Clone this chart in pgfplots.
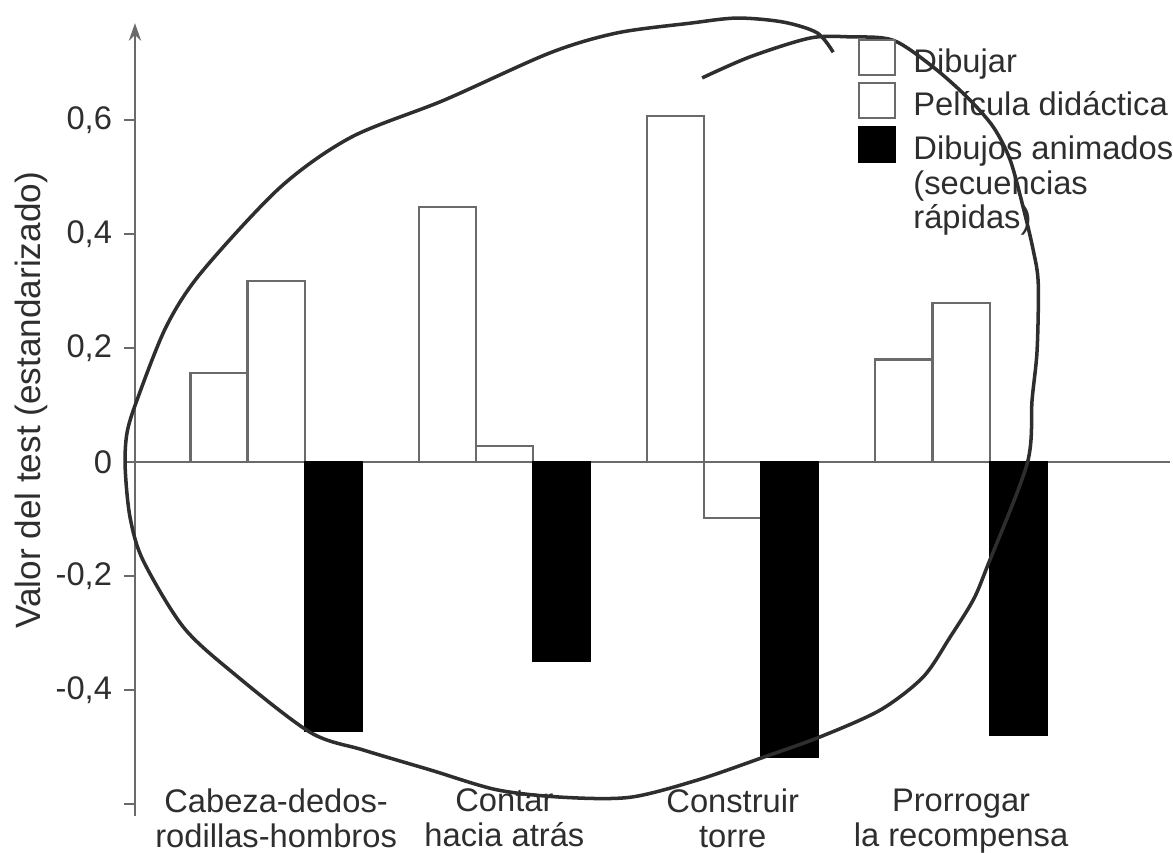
\documentclass[border=0pt]{standalone}
\usepackage{pgfplots}
\pgfplotsset{compat=1.18}
\usepackage{fontspec}
\setmainfont{Liberation Sans}
\usetikzlibrary{arrows.meta}

\definecolor{ink}{HTML}{2E2E2E}
\definecolor{edge}{HTML}{6A6A6A}

\pgfplotsset{
  legbox/.style={legend image code/.code={\draw[##1] (0pt,-2.8pt) rectangle (10.2pt,7.1pt);}},
}

\begin{document}
\begin{tikzpicture}
\useasboundingbox (-38.4pt,-10.4pt) rectangle (295.3pt,232.0pt);
\begin{axis}[
    at={(0,0)}, anchor=south west,
    scale only axis, width=294.5pt, height=225.4pt,
    xmin=-0.618, xmax=3.916, ymin=-0.62, ymax=0.77,
    clip=false,
    axis y line=left, axis x line*=bottom,
    x axis line style={draw=none},
    y axis line style={draw=edge, line width=0.6pt, -{Stealth[length=5pt,width=3.5pt]}},
    xtick={0,1,2,3},
    xticklabels={{Cabeza-dedos-\\rodillas-hombros},{Contar\\hacia atrás},{Construir\\torre},{Prorrogar\\la recompensa}},
    xtick style={draw=none},
    xticklabel style={align=center, anchor=north, inner sep=0pt, yshift=10.8pt,
        font=\fontsize{9.3}{9.9}\selectfont, text=ink},
    ytick={-0.6,-0.4,-0.2,0,0.2,0.4,0.6},
    yticklabels={{},{-0,4},{-0,2},0,{0,2},{0,4},{0,6}},
    yticklabel style={font=\fontsize{9.3}{10}\selectfont, text=ink},
    tick align=outside, major tick length=3pt,
    ytick style={draw=edge, line width=0.6pt},
    extra y ticks={0}, extra y tick labels={},
    extra y tick style={grid=major, major grid style={draw=edge, line width=0.5pt}, tick style={draw=none}},
    ylabel={Valor del test (estandarizado)},
    ylabel style={at={(axis description cs:-0.1005,0.524)}, anchor=center,
        font=\fontsize{10}{11}\selectfont, text=ink},
    legend cell align=left,
    legend style={at={(0.6976,0.981)}, anchor=north west, draw=none, fill=none,
        inner sep=0pt, row sep=0pt, column sep=5pt,
        nodes={inner sep=0pt, text height=7.1pt, text depth=2.8pt,
            font=\fontsize{9.3}{10}\selectfont, text=ink}},
]

\addplot[ybar, bar width=0.25, bar shift=-0.25, fill=white, draw=edge, line width=0.6pt, legbox]
    coordinates {(0,0.156) (1,0.447) (2,0.607) (3,0.180)};
\addlegendentry{Dibujar}

\addplot[ybar, bar width=0.25, bar shift=0, fill=white, draw=edge, line width=0.6pt, legbox]
    coordinates {(0,0.318) (1,0.028) (2,-0.098) (3,0.279)};
\addlegendentry{Película didáctica}

\addplot[ybar, bar width=0.25, bar shift=0.25, fill=black, draw=black, line width=0.6pt, legbox]
    coordinates {(0,-0.472) (1,-0.349) (2,-0.517) (3,-0.479)};
\addlegendentry{Dibujos animados}

\addlegendimage{empty legend}
\addlegendentry{(secuencias}
\addlegendimage{empty legend}
\addlegendentry{rápidas)}

% hand-drawn loop over the chart
\addplot[forget plot, smooth, draw=ink, line width=1pt] coordinates {
    (1.866,0.674) (2.076,0.711) (2.339,0.744) (2.514,0.746) (2.703,0.740)
    (2.878,0.693) (3.027,0.640) (3.141,0.588) (3.215,0.530) (3.272,0.447)
    (3.316,0.372) (3.338,0.314) (3.333,0.196) (3.311,0.109) (3.290,-0.002)
    (3.114,-0.184) (3.053,-0.242) (2.952,-0.307) (2.834,-0.377) (2.646,-0.435)
    (2.383,-0.482) (2.133,-0.518) (1.844,-0.558) (1.551,-0.588) (1.257,-0.588)
    (0.968,-0.575) (0.675,-0.540) (0.381,-0.505) (0.149,-0.474) (-0.188,-0.370)
    (-0.407,-0.289) (-0.583,-0.172) (-0.640,-0.096) (-0.661,-0.009)
    (-0.653,0.051) (-0.609,0.109) (-0.482,0.237) (-0.329,0.332) (0.018,0.482)
    (0.329,0.570) (0.736,0.635) (1.200,0.718) (1.494,0.753) (1.813,0.770)
    (2.019,0.779) (2.221,0.772) (2.370,0.753) (2.440,0.719)
};

\end{axis}
\end{tikzpicture}
\end{document}
